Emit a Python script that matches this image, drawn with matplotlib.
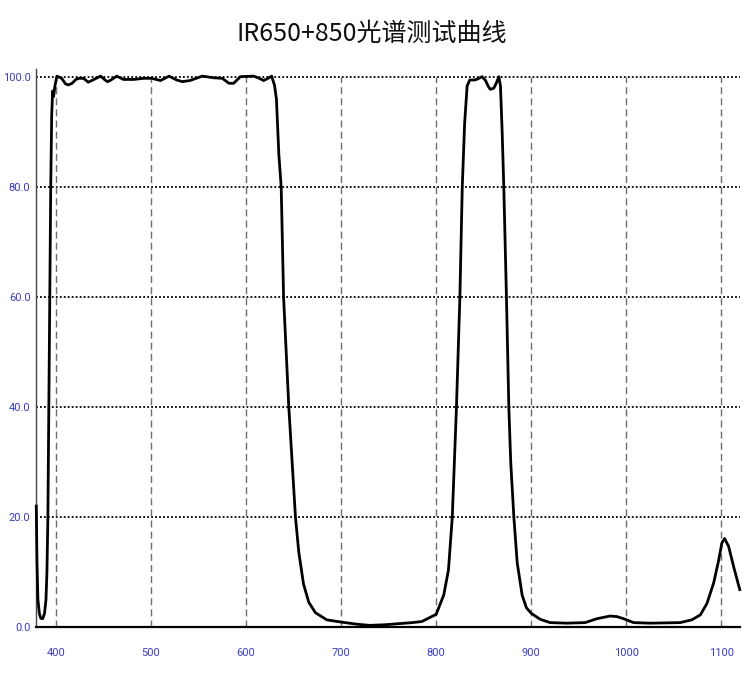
import matplotlib
matplotlib.use("Agg")
import matplotlib.pyplot as plt
from matplotlib import font_manager

# ---- data ----
wavelength = [379.3, 380.0, 381.0, 382.5, 384.0, 386.0, 388.0, 389.5, 390.5, 391.5,
              392.5, 393.5, 394.5, 395.5, 396.5, 397.5, 399.0, 401.0, 406.0, 410.0,
              413.0, 417.0, 421.0, 424.0, 429.0, 434.0, 440.0, 447.0, 451.0, 454.0,
              457.0, 464.0, 471.0, 482.0, 492.0, 501.0, 510.0, 519.0, 527.0, 533.0,
              541.0, 554.0, 566.0, 575.0, 582.0, 587.0, 594.0, 608.0, 614.0, 618.5,
              622.0, 627.0, 630.0, 632.0, 634.5, 637.0, 639.5, 645.0, 652.0, 655.5,
              660.5, 666.0, 673.0, 685.0, 700.0, 717.0, 730.0, 745.0, 760.0, 775.0,
              785.0, 800.0, 808.0, 813.0, 817.0, 821.4, 825.0, 827.5, 830.0, 832.6,
              835.4, 841.0, 845.0, 848.4, 852.0, 855.0, 857.0, 860.7, 863.5, 866.0,
              867.7, 869.5, 871.2, 874.0, 876.5, 878.5, 881.8, 885.3, 890.5, 895.0,
              900.0, 909.5, 920.0, 937.5, 956.8, 969.0, 983.0, 990.0, 997.5, 1007.7,
              1025.0, 1056.8, 1069.0, 1078.0, 1085.0, 1092.0, 1097.0, 1100.7, 1103.5, 1107.7,
              1113.0, 1119.5]
transmittance = [22.0, 12.0, 5.0, 2.5, 1.6, 1.5, 2.5, 5.0, 10.0, 20.0,
                 40.0, 60.0, 80.0, 93.0, 97.5, 96.5, 98.5, 100.2, 99.8, 98.8,
                 98.6, 98.9, 99.6, 99.8, 99.8, 99.1, 99.6, 100.2, 99.6, 99.2,
                 99.4, 100.2, 99.6, 99.6, 99.8, 99.8, 99.4, 100.2, 99.5, 99.2,
                 99.4, 100.2, 99.9, 99.8, 98.9, 98.9, 100.1, 100.2, 99.8, 99.4,
                 99.7, 100.2, 98.5, 96.0, 86.0, 80.0, 60.0, 40.0, 20.0, 13.6,
                 7.8, 4.5, 2.6, 1.3, 0.9, 0.5, 0.3, 0.4, 0.6, 0.8,
                 1.0, 2.3, 5.8, 10.4, 20.0, 40.0, 60.0, 80.0, 91.6, 98.4,
                 99.5, 99.5, 99.8, 100.1, 99.4, 98.3, 97.8, 98.0, 99.0, 100.1,
                 98.4, 90.0, 80.0, 60.0, 40.0, 30.0, 20.0, 11.7, 5.8, 3.5,
                 2.5, 1.4, 0.8, 0.7, 0.8, 1.5, 2.0, 1.9, 1.5, 0.8,
                 0.7, 0.8, 1.3, 2.2, 4.3, 8.0, 11.9, 15.3, 16.1, 14.7,
                 11.0, 6.8]
x_ticks = [400, 500, 600, 700, 800, 900, 1000, 1100]
x_tick_labels = ["400", "500", "600", "700", "800", "900", "1000", "1100"]
y_ticks = [0, 20, 40, 60, 80, 100]
y_tick_labels = ["0.0", "20.0", "40.0", "60.0", "80.0", "100.0"]
title = "IR650+850光谱测试曲线"

# ---- fonts ----
available = {f.name for f in font_manager.fontManager.ttflist}
tick_family = "Roboto" if "Roboto" in available else "DejaVu Sans"

fig = plt.figure(figsize=(7.5, 6.75), dpi=100)
ax = fig.add_axes([0.048, 0.0711, 0.939, 0.8267])

xmin, xmax = 379, 1120
ax.set_xlim(xmin, xmax)
ax.set_ylim(0, 101.5)

# grid
ax.hlines([20, 40, 60, 80, 100], xmin, xmax, colors="black", linewidth=1.3,
          linestyles=[(0, (1.0, 1.2))], zorder=1)
ax.vlines(x_ticks, 0, 100, colors="#6e6e6e", linewidth=1.0,
          linestyles=[(0, (5, 3))], zorder=1)

ax.plot(wavelength, transmittance, color="black", linewidth=2.0, zorder=3,
        clip_on=False)

for s in ["top", "right"]:
    ax.spines[s].set_visible(False)
ax.spines["left"].set_color("#444444")
ax.spines["left"].set_linewidth(1.0)
ax.spines["bottom"].set_color("black")
ax.spines["bottom"].set_linewidth(1.6)

ax.set_xticks(x_ticks)
ax.set_xticklabels(x_tick_labels)
ax.set_yticks(y_ticks)
ax.set_yticklabels(y_tick_labels)
ax.tick_params(axis="both", length=0, colors="#3c3cc0", labelsize=8)
ax.tick_params(axis="x", pad=15)
ax.tick_params(axis="y", pad=4)
for lab in ax.get_xticklabels() + ax.get_yticklabels():
    lab.set_family(tick_family)

fig.text(0.496, 0.949, title, ha="center", va="center", fontsize=18,
         family=["Noto Sans CJK SC", "DejaVu Sans"], color="#111111")

fig.savefig("out.png", dpi=100, facecolor="white")
